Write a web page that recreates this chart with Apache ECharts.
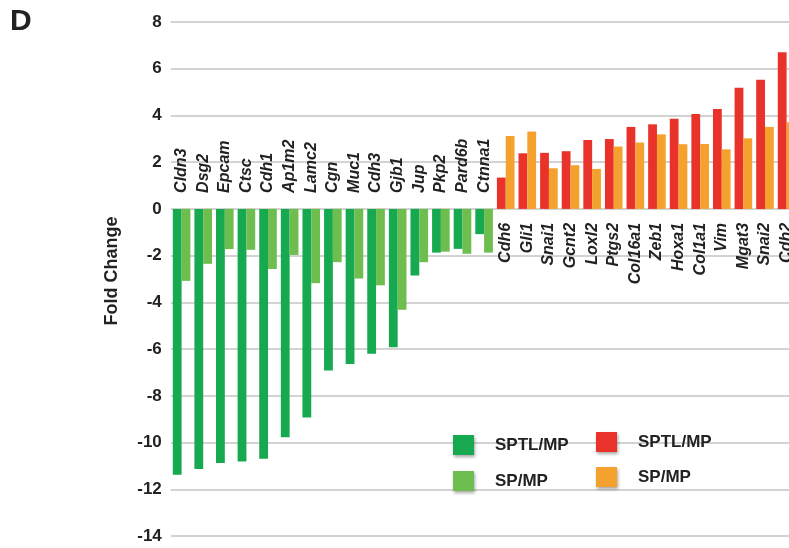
<!DOCTYPE html>
<html>
<head>
<meta charset="utf-8">
<title>Fold Change</title>
<script src="https://cdn.jsdelivr.net/npm/echarts@6/dist/echarts.min.js"></script>
<style>
  html, body { margin: 0; padding: 0; background: #fff; overflow: hidden; }
  #chart { width: 820px; height: 548px; }
</style>
</head>
<body>
<div id="chart"></div>
<script>
// Epithelial genes (down-regulated) and mesenchymal genes (up-regulated)
const epiGenes = ['Cldn3', 'Dsg2', 'Epcam', 'Ctsc', 'Cdh1', 'Ap1m2', 'Lamc2', 'Cgn',
  'Muc1', 'Cdh3', 'Gjb1', 'Jup', 'Pkp2', 'Pard6b', 'Ctnna1'];
const mesGenes = ['Cdh6', 'Gli1', 'Snai1', 'Gcnt2', 'Loxl2', 'Ptgs2', 'Col16a1', 'Zeb1',
  'Hoxa1', 'Col1a1', 'Vim', 'Mgat3', 'Snai2', 'Cdh2'];

// Fold change values
const epiSPTL = [-11.38, -11.13, -10.88, -10.81, -10.69, -9.77, -8.93, -6.92,
  -6.64, -6.20, -5.92, -2.85, -1.87, -1.71, -1.08];
const epiSP = [-3.08, -2.35, -1.72, -1.75, -2.57, -1.97, -3.18, -2.28,
  -2.98, -3.27, -4.32, -2.28, -1.83, -1.92, -1.87];
const mesSPTL = [1.34, 2.38, 2.40, 2.47, 2.95, 2.99, 3.51, 3.62,
  3.86, 4.06, 4.28, 5.19, 5.53, 6.70];
const mesSP = [3.12, 3.31, 1.74, 1.87, 1.71, 2.67, 2.84, 3.19,
  2.77, 2.78, 2.55, 3.02, 3.51, 3.71];

const yTicks = { min: -14, max: 8, interval: 2 };

const categories = epiGenes.concat(mesGenes);
const nEpi = epiGenes.length;
const pad = (n) => Array(n).fill('-');

const colors = {
  epiSPTL: '#17a94f',
  epiSP: '#6dbd4f',
  mesSPTL: '#e8322a',
  mesSP: '#f5a12d'
};

// Plot area
const gridBox = { left: 170.8, top: 22, width: 626.6, height: 514 };
// Both category axes sit on the zero line: shift them inward from the grid edges
const zeroFromTop = gridBox.height * yTicks.max / (yTicks.max - yTicks.min);
const zeroFromBottom = gridBox.height - zeroFromTop;

const labelFont = {
  color: '#222',
  fontFamily: 'Liberation Sans, Arial, sans-serif',
  fontWeight: 'bold',
  fontStyle: 'italic',
  fontSize: 16
};

const legendBase = {
  orient: 'vertical',
  itemWidth: 21,
  itemHeight: 20,
  padding: 0,
  icon: 'rect',
  selectedMode: false,
  formatter: (name) => name.split(':')[1],
  itemStyle: {
    shadowBlur: 3,
    shadowColor: 'rgba(0,0,0,0.35)',
    shadowOffsetX: 1,
    shadowOffsetY: 2
  },
  textStyle: {
    color: '#222',
    fontFamily: 'Liberation Sans, Arial, sans-serif',
    fontWeight: 'bold',
    fontSize: 17,
    padding: [0, 0, 0, 16]
  }
};

const chart = echarts.init(document.getElementById('chart'), null, { renderer: 'canvas' });

const barBase = { type: 'bar', barWidth: 8.8, barGap: '0%', xAxisIndex: 0, animation: false };

chart.setOption({
  animation: false,
  backgroundColor: '#fff',
  grid: Object.assign({ containLabel: false, outerBoundsMode: 'none' }, gridBox),
  graphic: [
    {
      type: 'text', left: 10, top: 7,
      style: { text: 'D', fill: '#222', font: 'bold 30px "Liberation Sans", Arial, sans-serif' }
    },
    {
      type: 'text', x: 112, y: 271, rotation: Math.PI / 2,
      style: {
        text: 'Fold Change', fill: '#222', align: 'center', verticalAlign: 'middle',
        font: 'bold 18px "Liberation Sans", Arial, sans-serif'
      }
    }
  ],
  legend: [
    Object.assign({}, legendBase, { left: 453, top: 435, itemGap: 16, data: ['E:SPTL/MP', 'E:SP/MP'] }),
    Object.assign({}, legendBase, { left: 596, top: 432, itemGap: 15, data: ['M:SPTL/MP', 'M:SP/MP'] })
  ],
  xAxis: [
    {
      type: 'category', data: categories, position: 'bottom', offset: -zeroFromBottom,
      axisLine: { show: false, onZero: false },
      axisTick: { show: false },
      axisLabel: Object.assign({
        rotate: 90, margin: 14, interval: 0,
        formatter: (v, i) => (i >= nEpi ? v : '')
      }, labelFont)
    },
    {
      type: 'category', data: categories, position: 'top', offset: -zeroFromTop,
      axisLine: { show: false, onZero: false },
      axisTick: { show: false },
      axisLabel: Object.assign({
        rotate: -90, margin: 16, interval: 0, padding: [0, 0, 6, 0],
        formatter: (v, i) => (i < nEpi ? v : '')
      }, labelFont)
    }
  ],
  yAxis: {
    type: 'value', min: yTicks.min, max: yTicks.max, interval: yTicks.interval,
    axisLine: { show: false },
    axisTick: { show: false },
    splitLine: { lineStyle: { color: '#c4c4c4', width: 1.5 } },
    axisLabel: {
      margin: 9, color: '#222', fontWeight: 'bold', fontSize: 17,
      fontFamily: 'Liberation Sans, Arial, sans-serif'
    }
  },
  series: [
    Object.assign({}, barBase, { name: 'E:SPTL/MP', stack: 'sptl', data: epiSPTL.concat(pad(mesGenes.length)), itemStyle: { color: colors.epiSPTL } }),
    Object.assign({}, barBase, { name: 'E:SP/MP', stack: 'sp', data: epiSP.concat(pad(mesGenes.length)), itemStyle: { color: colors.epiSP } }),
    Object.assign({}, barBase, { name: 'M:SPTL/MP', stack: 'sptl', data: pad(nEpi).concat(mesSPTL), itemStyle: { color: colors.mesSPTL } }),
    Object.assign({}, barBase, { name: 'M:SP/MP', stack: 'sp', data: pad(nEpi).concat(mesSP), itemStyle: { color: colors.mesSP } })
  ]
});
</script>
</body>
</html>
